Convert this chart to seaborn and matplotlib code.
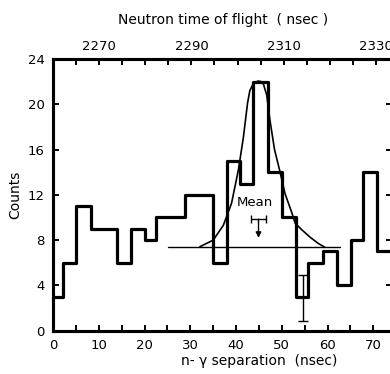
import matplotlib
matplotlib.use("Agg")
import matplotlib.pyplot as plt
import seaborn as sns
import numpy as np
import pandas as pd

# ---- data ----
bin_edges = [0, 2.1, 5.1, 8.2, 14.0, 17.0, 20.1, 22.6, 28.8, 35.0, 38.0, 40.9,
             43.7, 47.0, 50.0, 53.1, 55.8, 58.9, 62.0, 65.1, 67.7, 70.7, 74.5]
bin_counts = [3, 6, 11, 9, 6, 9, 8, 10, 12, 6, 15, 13,
              22, 14, 10, 3, 6, 7, 4, 8, 14, 7]

curve_x = [32.1, 35.0, 37.2, 39.0, 40.5, 41.6, 42.5, 43.0, 43.6, 44.1, 44.9,
           45.5, 46.0, 46.7, 47.4, 48.4, 49.5, 50.7, 52.2, 52.9, 54.4, 56.2,
           58.0, 59.4]
curve_y = [7.42, 8.0, 9.3, 11.25, 14.2, 17.1, 20.1, 21.2, 21.7, 21.95, 22.05,
           22.0, 21.75, 20.8, 18.6, 16.0, 14.2, 12.1, 10.4, 9.5, 8.9, 8.25,
           7.7, 7.37]

baseline_x = [25.2, 62.7]
baseline_y = [7.35, 7.35]

mean_x = 44.9
mean_y = 9.85
mean_xerr = 1.6
mean_arrow_end = 8.2

err_x = 54.7
err_y = 2.9
err_yerr = 2.02

y_ticks = [0, 4, 8, 12, 16, 20, 24]
x_major = [0, 10, 20, 30, 40, 50, 60, 70]
x_minor = [5, 15, 25, 35, 45, 55, 65]
top_major = [2270, 2290, 2310, 2330]
top_minor = [2265, 2275, 2280, 2285, 2295, 2300, 2305, 2315, 2320, 2325]

# ---- style ----
sns.set_style("ticks")
plt.rcParams['font.family'] = ['DejaVu Sans']
plt.rcParams.update({
    "xtick.direction": "in", "ytick.direction": "in",
    "xtick.color": "black", "ytick.color": "black",
    "axes.edgecolor": "black", "axes.linewidth": 2.2,
    "axes.labelcolor": "black", "text.color": "black",
})

FIG_W, FIG_H = 390, 374
AX_L, AX_B, AX_W, AX_H = 53.1, 43.3, 339.0, 271.7
TICK_PX = 6.0

fig = plt.figure(figsize=(FIG_W / 100, FIG_H / 100), dpi=100)
ax = fig.add_axes([AX_L / FIG_W, AX_B / FIG_H, AX_W / FIG_W, AX_H / FIG_H])

centers = [(a + b) / 2 for a, b in zip(bin_edges[:-1], bin_edges[1:])]
hist_df = pd.DataFrame({"sep": centers, "counts": bin_counts})
sns.histplot(data=hist_df, x="sep", weights="counts", bins=bin_edges,
             element="step", fill=False, color="black", linewidth=2.3, ax=ax)

sns.lineplot(x=curve_x, y=curve_y, sort=False, color="black", linewidth=1.2, ax=ax)
sns.lineplot(x=baseline_x, y=baseline_y, color="black", linewidth=1.0, ax=ax)

ax.errorbar(mean_x, mean_y, xerr=mean_xerr, color="black", capsize=3,
            elinewidth=1.0, capthick=1.0)
ax.annotate("", xy=(mean_x, mean_arrow_end), xytext=(mean_x, mean_y),
            arrowprops=dict(arrowstyle="-|>", color="black", lw=1.0,
                            mutation_scale=8, shrinkA=0, shrinkB=0))
ax.text(44.2, 11.3, "Mean", ha="center", va="center", fontsize=9.5)

ax.errorbar(err_x, err_y, yerr=err_yerr, color="black", capsize=3.5,
            elinewidth=1.0, capthick=1.0)

xmax = 74.1
ax.set_xlim(0, xmax)
ax.set_ylim(0, 24)

ax.set_ylabel("Counts", fontsize=10, labelpad=4)
ax.set_xlabel("n- γ separation  (nsec)", fontsize=10)
ax.xaxis.set_label_coords(0.607, -0.085)


def fwd(x):
    return 2265 + (x - 5.0) / 1.009


def inv(t):
    return 5.0 + 1.009 * (t - 2265)


ax2 = ax.twiny()
ax2.set_xlim(fwd(0), fwd(xmax))
ax2.set_xticks(top_major)
ax2.tick_params(axis="x", which="both", direction="in", length=0,
                labelsize=9.5, pad=4, top=True, bottom=False)
ax2.set_xlabel("Neutron time of flight  ( nsec )", fontsize=10, labelpad=12)

ax.set_xticks(x_major)
ax.set_yticks(y_ticks)
ax.tick_params(axis="both", which="both", length=0, labelsize=9.5, pad=6)

# inward tick marks drawn explicitly from the tick lists
tx = TICK_PX / AX_H
ty = TICK_PX / AX_W
xt = ax.get_xaxis_transform()
yt = ax.get_yaxis_transform()
tick_kw = dict(color="black", linewidth=1.4, clip_on=False, solid_capstyle="butt")
for v in x_major + x_minor:
    ax.plot([v, v], [0, tx], transform=xt, **tick_kw)
for t in top_major + top_minor:
    v = inv(t)
    ax.plot([v, v], [1 - tx, 1], transform=xt, **tick_kw)
for v in y_ticks[1:-1]:
    ax.plot([0, ty], [v, v], transform=yt, **tick_kw)
    ax.plot([1 - ty, 1], [v, v], transform=yt, **tick_kw)

for a in (ax, ax2):
    for s in a.spines.values():
        s.set_linewidth(2.2)
        s.set_visible(True)

fig.savefig("out.png", dpi=100)
